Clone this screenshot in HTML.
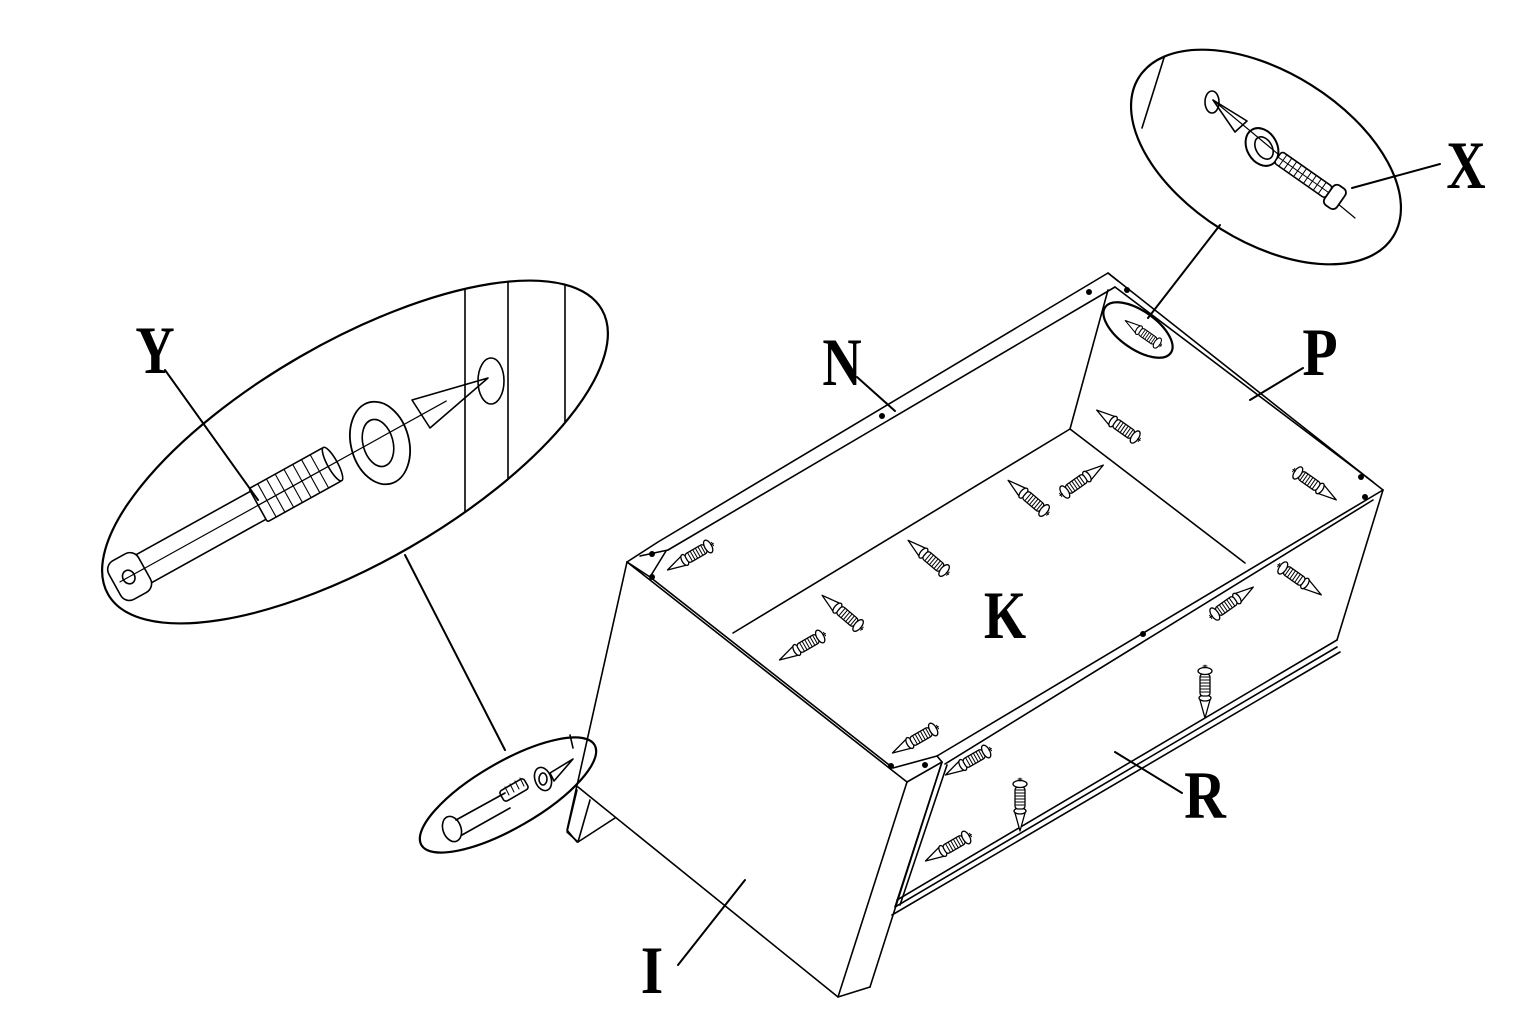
<!DOCTYPE html>
<html><head><meta charset="utf-8"><style>
html,body{margin:0;padding:0;background:#fff;width:1536px;height:1024px;overflow:hidden}
svg{display:block}
.t{font-family:"Liberation Serif",serif;font-size:68px;font-weight:bold;fill:#000}
</style></head><body>
<svg width="1536" height="1024" viewBox="0 0 1536 1024" xmlns="http://www.w3.org/2000/svg" fill="none" stroke="#000" stroke-width="1.6" stroke-linejoin="round" stroke-linecap="round">
<defs>
<symbol id="sc" viewBox="-30 -12 60 24" overflow="visible">
 <g fill="#fff" stroke="#000" stroke-width="1.3">
  <path d="M8 -5 L26 0 L8 5 Z"/>
  <ellipse cx="6" cy="0" rx="3" ry="6"/>
  <rect x="-18" y="-5" width="22" height="10" rx="3"/>
  <path d="M-15 -5v10M-12 -5v10M-9 -5v10M-6 -5v10M-3 -5v10M0 -5v10" stroke-width="1"/>
  <ellipse cx="-21" cy="0" rx="3.5" ry="7"/>
  <path d="M-24 0h-3M-26 -2v4" stroke-width="1"/>
 </g>
</symbol>
<clipPath id="cy"><ellipse cx="355" cy="452" rx="285" ry="110" transform="rotate(-30 355 452)"/></clipPath>
<clipPath id="cx"><ellipse cx="1266" cy="157" rx="150" ry="85" transform="rotate(32 1266 157)"/></clipPath>
</defs>

<!-- Box -->
<path d="M627 562 L658 542 L1108 273 L1118 281"/>
<path d="M668 550 L1115 287"/>
<path d="M627 562 L650 577 L666 551"/>
<path d="M640 556 L668 550"/>
<path d="M1108 273 L1383 490"/>
<path d="M1115 287 L1373 482"/>
<path d="M1070 429 L1108 290"/>
<path d="M733 633 L1070 429 L1245 563"/>
<path d="M627 562 L907 782"/>
<path d="M650 577 L893 768 L937 756"/>
<path d="M627 562 L567 830 L577 842"/>
<path d="M578 787 L838 997 L870 987"/>
<path d="M907 782 L838 997"/>
<path d="M942 762 L870 987"/>
<path d="M907 782 L942 762 L937 756"/>
<path d="M577 790 L567 832 L578 842 L615 818"/>
<path d="M590 800 L578 842"/>
<path d="M937 756 L1383 490"/>
<path d="M945 764 L1373 500"/>
<path d="M1383 490 L1337 640"/>
<path d="M942 762 L895 907"/>
<path d="M947 765 L900 905"/>
<path d="M895 907 L1337 647"/>
<path d="M892 915 L1340 652"/>
<path d="M897 900 L1337 640"/>
<g fill="#000" stroke="none">
<circle cx="882" cy="416" r="3"/><circle cx="1089" cy="292" r="3"/>
<circle cx="652" cy="554" r="3"/><circle cx="652" cy="577" r="3"/>
<circle cx="1361" cy="477" r="3"/><circle cx="1365" cy="497" r="3"/>
<circle cx="1143" cy="634" r="3"/><circle cx="891" cy="766" r="3"/><circle cx="925" cy="765" r="3"/>
<circle cx="1127" cy="290" r="3"/>
</g>

<!-- screws -->
<g>
<use href="#sc" x="-30" y="-12" width="60" height="24" transform="translate(690,557) rotate(150)"/>
<use href="#sc" x="-30" y="-12" width="60" height="24" transform="translate(842,612) rotate(-140)"/>
<use href="#sc" x="-30" y="-12" width="60" height="24" transform="translate(802,647) rotate(150)"/>
<use href="#sc" x="-30" y="-12" width="60" height="24" transform="translate(928,557) rotate(-140)"/>
<use href="#sc" x="-30" y="-12" width="60" height="24" transform="translate(1028,497) rotate(-140)"/>
<use href="#sc" x="-30" y="-12" width="60" height="24" transform="translate(1082,480) rotate(-35)"/>
<use href="#sc" x="-30" y="-12" width="60" height="24" transform="translate(1118,425) rotate(-145)"/>
<use href="#sc" x="-30" y="-12" width="60" height="24" transform="translate(1315,485) rotate(35)"/>
<use href="#sc" x="-30" y="-12" width="60" height="24" transform="translate(1300,580) rotate(35)"/>
<use href="#sc" x="-30" y="-12" width="60" height="24" transform="translate(1232,602) rotate(-35)"/>
<use href="#sc" x="-30" y="-12" width="60" height="24" transform="translate(915,740) rotate(150)"/>
<use href="#sc" x="-30" y="-12" width="60" height="24" transform="translate(968,762) rotate(150)"/>
<use href="#sc" x="-30" y="-12" width="60" height="24" transform="translate(948,848) rotate(150)"/>
<use href="#sc" x="-30" y="-12" width="60" height="24" transform="translate(1020,805) rotate(90)"/>
<use href="#sc" x="-30" y="-12" width="60" height="24" transform="translate(1205,692) rotate(90)"/>
</g>

<!-- small ellipse on box top (X) -->
<ellipse cx="1138" cy="330" rx="40" ry="19" transform="rotate(35 1138 330)" stroke-width="2.2"/>
<use href="#sc" x="-25" y="-10" width="50" height="20" transform="translate(1143,333) rotate(-145)"/>
<path d="M1148 318 L1220 225" stroke-width="2"/>

<!-- X detail ellipse -->
<ellipse cx="1266" cy="157" rx="150" ry="85" transform="rotate(32 1266 157)" stroke-width="2.2"/>
<g clip-path="url(#cx)"><path d="M1168 45 L1142 128"/></g>
<ellipse cx="1212" cy="102" rx="7" ry="11"/>
<path d="M1213 100 L1247 121 L1235 132 Z"/>
<path d="M1213 100 L1355 218" stroke-width="1.2"/>
<ellipse cx="1262" cy="147" rx="15" ry="20" transform="rotate(-30 1262 147)" stroke-width="2"/>
<ellipse cx="1264" cy="148" rx="8" ry="12" transform="rotate(-30 1264 148)"/>
<g transform="translate(1305,176) rotate(35)">
<rect x="-33" y="-7" width="62" height="14" rx="3" fill="#fff"/>
<path d="M-27 -7v14M-21 -7v14M-15 -7v14M-9 -7v14M-3 -7v14M3 -7v14M9 -7v14M15 -7v14M21 -7v14M-33 0h62" stroke-width="1"/>
<rect x="29" y="-12" width="15" height="24" rx="5" fill="#fff" stroke-width="1.8"/>
</g>
<path d="M1352 188 L1440 164" stroke-width="2"/>

<!-- Y detail ellipse -->
<ellipse cx="355" cy="452" rx="285" ry="110" transform="rotate(-30 355 452)" stroke-width="2.2"/>
<g clip-path="url(#cy)"><path d="M465 280 V520 M508 280 V490 M565 280 V440"/></g>
<ellipse cx="491" cy="381" rx="13" ry="23"/>
<path d="M412 400 L430 428 L488 378 Z"/>
<ellipse cx="380" cy="443" rx="29" ry="42" transform="rotate(-15 380 443)" stroke-width="1.8"/>
<ellipse cx="378" cy="443" rx="15" ry="24" transform="rotate(-15 378 443)"/>
<g transform="translate(127,578) rotate(-29)">
 <path d="M18 -16 H150 M18 16 H150"/>
 <rect x="150" y="-19" width="85" height="38" rx="2" fill="#fff"/>
 <path d="M160 -19v38M170 -19v38M180 -19v38M190 -19v38M200 -19v38M210 -19v38M220 -19v38M150 0h85" stroke-width="1.1"/>
 <ellipse cx="235" cy="0" rx="5" ry="19" fill="#fff"/>
 <path d="M0 0 H365" stroke-width="1.2"/>
 <rect x="-14" y="-22" width="34" height="44" rx="10" fill="#fff"/>
 <ellipse cx="2" cy="0" rx="6" ry="7"/>
 <path d="M-8 0 H20" stroke-width="1.2"/>
</g>
<path d="M258 500 L165 370" stroke-width="2"/>
<path d="M405 555 L505 750" stroke-width="2"/>

<!-- small ellipse near I -->
<ellipse cx="508" cy="795" rx="100" ry="33" transform="rotate(-30 508 795)" stroke-width="2.2"/>
<path d="M570 735 L573 748"/>
<ellipse cx="452" cy="829" rx="9" ry="13" transform="rotate(-20 452 829)"/>
<path d="M456 820 L505 793 M462 835 L510 808"/>
<rect x="500" y="784" width="28" height="12" rx="3" transform="rotate(-30 514 790)"/>
<path d="M505 787l4 8M510 784l4 8M515 781l4 8M520 778l4 8" stroke-width="1"/>
<ellipse cx="543" cy="779" rx="8" ry="12" transform="rotate(-20 543 779)"/>
<ellipse cx="543" cy="779" rx="4" ry="6"/>
<path d="M550 773 L573 759 L554 781 Z"/>

<!-- leaders -->
<path d="M857 377 L895 411" stroke-width="2"/>
<path d="M1303 368 L1250 400" stroke-width="2"/>
<path d="M1115 752 L1182 793" stroke-width="2"/>
<path d="M678 965 L745 880" stroke-width="2"/>

<g stroke="none">
<text class="t" x="155" y="373" text-anchor="middle" transform="translate(155 0) scale(0.8 1) translate(-155 0)">Y</text>
<text class="t" x="842" y="385" text-anchor="middle" transform="translate(842 0) scale(0.8 1) translate(-842 0)">N</text>
<text class="t" x="1320" y="375" text-anchor="middle" transform="translate(1320 0) scale(0.85 1) translate(-1320 0)">P</text>
<text class="t" x="1466" y="188" text-anchor="middle" transform="translate(1466 0) scale(0.8 1) translate(-1466 0)">X</text>
<text class="t" x="1005" y="638" text-anchor="middle" transform="translate(1005 0) scale(0.8 1) translate(-1005 0)">K</text>
<text class="t" x="1205" y="818" text-anchor="middle" transform="translate(1205 0) scale(0.85 1) translate(-1205 0)">R</text>
<text class="t" x="652" y="993" text-anchor="middle" transform="translate(652 0) scale(0.85 1) translate(-652 0)">I</text>
</g>
</svg>
</body></html>
